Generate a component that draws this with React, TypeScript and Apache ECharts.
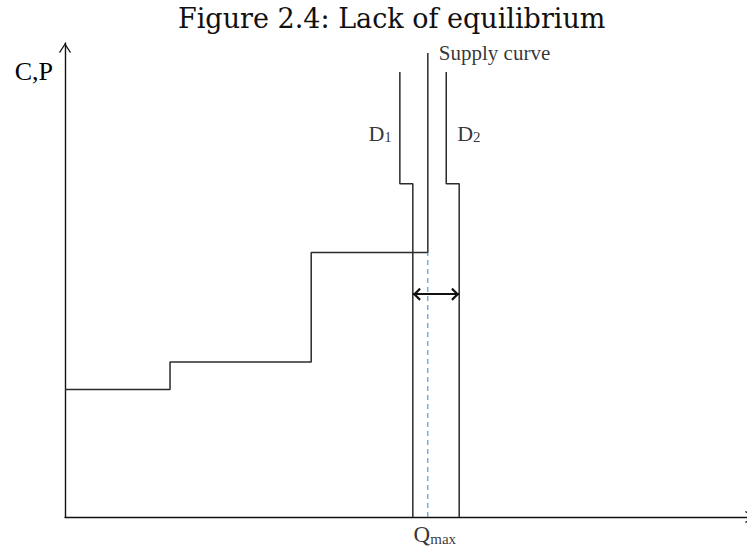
import React, { useEffect, useRef } from "react";
import * as echarts from "echarts";

// Quantity (x) and price/cost (y) in chart units (0-100 on both axes)
const supplyQ = [0, 15.4, 36.1, 53.2];
const supplyP = [26.9, 32.7, 55.8];
const supplyTop = 97.9;

const demandTop = 93.9;
const demandStep = 70.3;
const d1Q = [49.1, 51.0];
const d2Q = [55.9, 57.8];

const qMax = 53.2;
const gapArrowP = 47.0;
const labelP = 81.0;

const titleText = "Figure 2.4: Lack of equilibrium";

function stepCurve(q: number[], p: number[], top: number): number[][] {
  const pts: number[][] = [];
  for (let i = 0; i < p.length; i++) {
    pts.push([q[i], p[i]]);
    pts.push([q[i + 1], p[i]]);
  }
  pts.push([q[q.length - 1], top]);
  return pts;
}

function demandCurve(q: number[]): number[][] {
  return [
    [q[0], demandTop],
    [q[0], demandStep],
    [q[1], demandStep],
    [q[1], 0],
  ];
}

const axisArrow = "path://M6,0 L12,9.2 L11,10 L6,2.3 L1,10 L0,9.2 Z";
const gapArrow = "path://M6,0 L12,6.6 L10.4,8 L6,3.2 L1.6,8 L0,6.6 Z";

const serif = "Liberation Serif";

export default function App() {
  const ref = useRef<HTMLDivElement>(null);
  useEffect(() => {
    if (!ref.current) return;
    const chart = echarts.init(ref.current, null, { renderer: "svg" });
    const lineBase = {
      type: "line" as const,
      symbol: "none",
      silent: true,
      animation: false,
    };
    chart.setOption({
      animation: false,
      backgroundColor: "#ffffff",
      title: {
        text: titleText,
        left: 173,
        top: 0,
        textStyle: {
          fontFamily: "DejaVu Serif",
          fontWeight: "normal",
          fontSize: 27,
          color: "#111",
        },
      },
      grid: { left: 65, right: 0, top: 43, bottom: 33, containLabel: false },
      xAxis: {
        type: "value",
        min: 0,
        max: 100,
        axisLine: {
          show: true,
          onZero: false,
          symbol: ["none", axisArrow],
          symbolSize: [12, 10],
          symbolOffset: [0, 3],
          lineStyle: { color: "#111", width: 1.4 },
        },
        axisTick: { show: false },
        axisLabel: { show: false },
        splitLine: { show: false },
      },
      yAxis: {
        type: "value",
        min: 0,
        max: 100,
        name: "C,P",
        nameLocation: "end",
        nameGap: -28,
        nameTextStyle: {
          fontFamily: serif,
          fontSize: 26,
          color: "#000",
          align: "right",
          verticalAlign: "middle",
          padding: [0, 12, 0, 0],
        },
        axisLine: {
          show: true,
          onZero: false,
          symbol: ["none", axisArrow],
          symbolSize: [12, 10],
          symbolOffset: [0, -5],
          lineStyle: { color: "#111", width: 1.4 },
        },
        axisTick: { show: false },
        axisLabel: { show: false },
        splitLine: { show: false },
      },
      series: [
        {
          ...lineBase,
          name: "Supply",
          data: stepCurve(supplyQ, supplyP, supplyTop),
          lineStyle: { color: "#2b2b2b", width: 1.5 },
        },
        {
          ...lineBase,
          name: "D1",
          data: demandCurve(d1Q),
          lineStyle: { color: "#2b2b2b", width: 1.5 },
        },
        {
          ...lineBase,
          name: "D2",
          data: demandCurve(d2Q),
          lineStyle: { color: "#2b2b2b", width: 1.5 },
        },
        {
          ...lineBase,
          name: "Qmax",
          data: [
            [qMax, 0],
            [qMax, supplyP[supplyP.length - 1]],
          ],
          lineStyle: { color: "#3f7fd6", width: 1, type: [5, 4] },
          markLine: {
            silent: true,
            symbol: [gapArrow, gapArrow],
            symbolSize: [13, 8],
            symbolOffset: [
              [0, 4],
              [0, 4],
            ],
            label: { show: false },
            lineStyle: { color: "#111", width: 2.2, type: "solid" },
            data: [
              [
                { coord: [d1Q[1], gapArrowP] },
                { coord: [d2Q[1], gapArrowP] },
              ],
            ],
          },
        },
        {
          type: "scatter",
          silent: true,
          symbolSize: 0,
          data: [
            {
              value: [qMax, supplyTop],
              label: {
                position: "right",
                distance: 11,
                formatter: "Supply curve",
                fontSize: 21,
                color: "#000",
              },
            },
            {
              value: [d1Q[0], labelP],
              label: {
                position: "left",
                distance: 8,
                formatter: "{d|D}{n|1}",
              },
            },
            {
              value: [d2Q[0], labelP],
              label: {
                position: "right",
                distance: 11,
                formatter: "{d|D}{n|2}",
              },
            },
            {
              value: [qMax, 0],
              label: {
                position: "bottom",
                distance: 6,
                offset: [7, 0],
                formatter: "{q|Q}{m|max}",
              },
            },
          ],
          label: {
            show: true,
            fontFamily: serif,
            color: "#000",
            rich: {
              d: { fontFamily: serif, fontSize: 22, color: "#000" },
              n: { fontFamily: serif, fontSize: 15, color: "#000", verticalAlign: "bottom" },
              q: { fontFamily: serif, fontSize: 23, color: "#000" },
              m: { fontFamily: serif, fontSize: 15, color: "#000", verticalAlign: "bottom" },
            },
          },
        },
      ],
    });
    return () => chart.dispose();
  }, []);
  return (
    <div
      ref={ref}
      style={{ position: "fixed", left: 0, top: 0, width: 747, height: 550 }}
    />
  );
}
